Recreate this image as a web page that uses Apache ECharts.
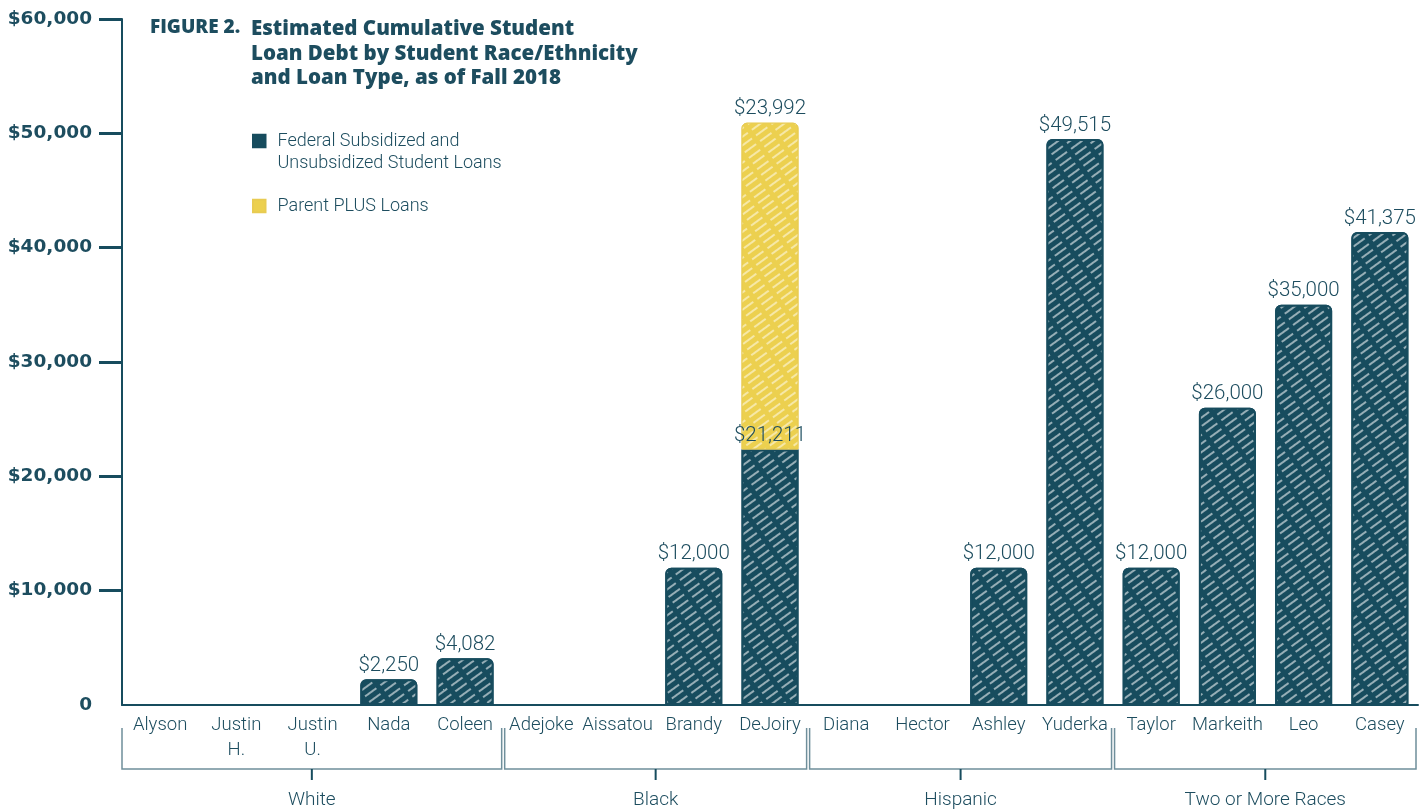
<!DOCTYPE html>
<html>
<head>
<meta charset="utf-8">
<script src="https://cdn.jsdelivr.net/npm/echarts@6/dist/echarts.min.js"></script>
<style>
html,body{margin:0;padding:0;background:#fff;}
#chart{width:1426px;height:810px;}
</style>
</head>
<body>
<div id="chart"></div>
<script>
const categories = ['Alyson','Justin\nH.','Justin\nU.','Nada','Coleen','Adejoke','Aissatou','Brandy','DeJoiry','Diana','Hector','Ashley','Yuderka','Taylor','Markeith','Leo','Casey'];
const groups = ['White','Black','Hispanic','Two or More Races'];
const groupSizes = [5,4,4,4];
// bar heights as drawn in the picture
const fedLoans = [null,null,null,2250,4082,null,null,12000,22350,null,null,12000,49515,12000,26000,35000,41375];
const parentPlus = [null,null,null,null,null,null,null,null,28580,null,null,null,null,null,null,null,null];
// printed value labels
const fedLabels = ['','','','$2,250','$4,082','','','$12,000','$21,211','','','$12,000','$49,515','$12,000','$26,000','$35,000','$41,375'];
const plusLabels = ['','','','','','','','','$23,992','','','','','','','',''];
const yTicks = [0,10000,20000,30000,40000,50000,60000];
const seriesNames = ['Federal Subsidized and Unsubsidized Student Loans','Parent PLUS Loans'];

const TEAL = '#174c5e';
const TEXT = '#1d4d5f';
const YELLOW = '#ecd04f';
const LIGHT = 'Roboto';

const chart = echarts.init(document.getElementById('chart'));

const fedData = fedLoans.map((v,i) => parentPlus[i] != null ? {value:v, itemStyle:{borderRadius:0}} : v);

const stripe = (c) => ({symbol:'rect', symbolSize:1, color:c, dashArrayX:[14,5], dashArrayY:[1.7,4.3], rotation:-Math.PI/5});

const option = {
  animation:false,
  backgroundColor:'#fff',
  title:[
    {text:'FIGURE 2.', left:145, top:13, textStyle:{fontFamily:'Open Sans', fontWeight:800, fontSize:19, color:TEXT}},
    {text:'Estimated Cumulative Student\nLoan Debt by Student Race/Ethnicity\nand Loan Type, as of Fall 2018', left:246, top:12,
     textStyle:{fontFamily:'Open Sans', fontWeight:800, fontSize:20.5, lineHeight:24.5, color:TEXT}}
  ],
  legend:[
    {data:[seriesNames[0]], orient:'vertical', left:252, top:108, padding:0, icon:'rect', itemWidth:12.5, itemHeight:12.5,
     itemStyle:{decal:'none'},
     formatter:() => '{p|}\n{t|Federal Subsidized and}\n{t|Unsubsidized Student Loans}',
     textStyle:{fontFamily:LIGHT, fontWeight:300, fontSize:18, color:TEXT,
       rich:{p:{height:22, lineHeight:22, fontSize:18, padding:[0,0,0,7]}, t:{fontFamily:LIGHT, fontWeight:300, fontSize:18, lineHeight:22, color:TEXT, padding:[0,0,0,7]}}}},
    {data:[seriesNames[1]], orient:'vertical', left:252, top:197, padding:0, icon:'rect', itemWidth:12.5, itemHeight:12.5,
     itemStyle:{decal:'none'},
     formatter:n => '{t|' + n + '}',
     textStyle:{fontFamily:LIGHT, fontWeight:300, fontSize:18, color:TEXT,
       rich:{t:{fontFamily:LIGHT, fontWeight:300, fontSize:18, lineHeight:21, color:TEXT, padding:[0,0,0,7]}}}}
  ],
  grid:{left:122, right:8, top:19, bottom:105},
  xAxis:{
    type:'category', data:categories,
    axisLine:{lineStyle:{color:TEAL, width:2}},
    axisTick:{show:false},
    axisLabel:{interval:0, margin:8, fontFamily:LIGHT, fontWeight:300, fontSize:18.5, lineHeight:25, color:TEXT, verticalAlign:'top'}
  },
  yAxis:{
    type:'value', min:0, max:60000, interval:10000,
    axisLine:{show:true, lineStyle:{color:TEAL, width:2}},
    axisTick:{show:true, length:23, lineStyle:{color:TEAL, width:3}, customValues:yTicks.slice(1)},
    axisLabel:{margin:30, fontFamily:'DejaVu Sans', fontWeight:'bold', fontSize:18.5, color:TEXT,
      customValues:yTicks,
      formatter:v => v === 0 ? '0' : '$' + v.toLocaleString('en-US')},
    splitLine:{show:false}
  },
  series:[
    {name:seriesNames[0], type:'bar', stack:'total', barWidth:57, data:fedData,
     itemStyle:{color:TEAL, borderColor:TEAL, borderWidth:2, borderRadius:[5,5,0,0], decal:stripe('rgba(255,255,255,0.55)')},
     label:{show:true, position:'top', distance:3, formatter:p => fedLabels[p.dataIndex],
       fontFamily:LIGHT, fontWeight:300, fontSize:20.5, color:TEXT}},
    {name:seriesNames[1], type:'bar', stack:'total', barWidth:57, data:parentPlus,
     itemStyle:{color:YELLOW, borderColor:'#e8cb52', borderWidth:1, borderRadius:[5,5,0,0], decal:stripe('rgba(255,255,255,0.5)')},
     label:{show:true, position:'top', distance:3, formatter:p => plusLabels[p.dataIndex],
       fontFamily:LIGHT, fontWeight:300, fontSize:20.5, color:TEXT}}
  ]
};
chart.setOption(option);

// group brackets derived from the category axis
function drawBrackets(){
  const y0 = chart.convertToPixel({yAxisIndex:0}, 0);
  const x0a = chart.convertToPixel({xAxisIndex:0}, categories[0]);
  const x1a = chart.convertToPixel({xAxisIndex:0}, categories[1]);
  const bw = x1a - x0a;
  const els = [];
  let start = 0;
  groups.forEach((g, gi) => {
    const end = start + groupSizes[gi] - 1;
    const xs = chart.convertToPixel({xAxisIndex:0}, categories[start]) - bw/2 + (gi === 0 ? 0 : 1.5);
    const xe = chart.convertToPixel({xAxisIndex:0}, categories[end]) + bw/2 - (gi === groups.length-1 ? 2 : 1.5);
    const top = y0 + 23, bot = y0 + 64;
    const xm = (xs + xe) / 2;
    els.push({type:'polyline', silent:true, shape:{points:[[xs,top],[xs,bot],[xe,bot],[xe,top]]},
      style:{stroke:'#6f8f9b', lineWidth:1.5, fill:null}});
    els.push({type:'line', silent:true, shape:{x1:xm, y1:bot, x2:xm, y2:bot+11}, style:{stroke:TEAL, lineWidth:2}});
    els.push({type:'text', silent:true, x:xm, y:y0+95, style:{text:g, align:'center', verticalAlign:'middle',
      font:'300 19px Roboto', fill:TEXT}});
    start = end + 1;
  });
  chart.setOption({graphic:els});
}
drawBrackets();
</script>
</body>
</html>
